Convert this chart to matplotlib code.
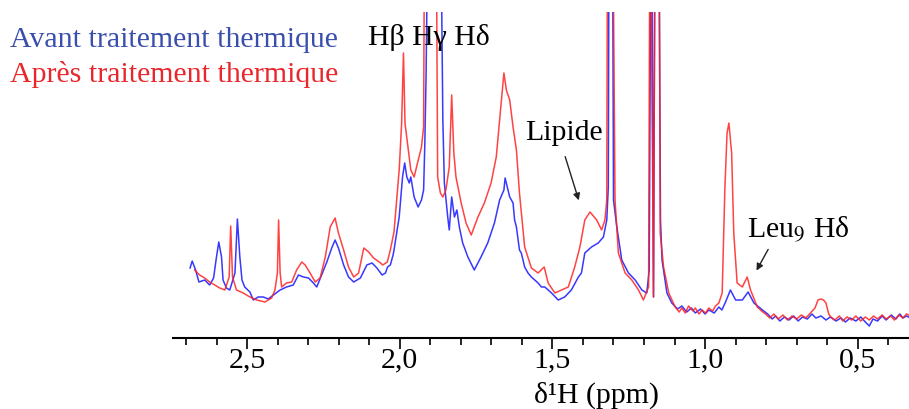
import numpy as np
import matplotlib.pyplot as plt
from matplotlib.ticker import MultipleLocator

plt.rcParams['font.family'] = ['Liberation Serif', 'DejaVu Serif']
plt.rcParams['mathtext.fontset'] = 'stix'

# chemical shift (ppm) / intensity (a.u.)
# values of 500 = peak goes off the top of the frame
avant_ppm = [2.687, 2.680, 2.669, 2.658, 2.639, 2.623, 2.610, 2.601, 2.593, 2.584,
             2.579, 2.568, 2.557, 2.540, 2.532, 2.524, 2.517, 2.508, 2.491, 2.480,
             2.464, 2.447, 2.431, 2.414, 2.392, 2.371, 2.349, 2.332, 2.316, 2.299,
             2.283, 2.272, 2.256, 2.239, 2.223, 2.212, 2.201, 2.184, 2.168, 2.151,
             2.129, 2.108, 2.091, 2.075, 2.058, 2.047, 2.040, 2.031, 2.022, 2.019,
             2.002, 1.991, 1.984, 1.977, 1.969, 1.964, 1.953, 1.940, 1.929, 1.922,
             1.918, 1.914, 1.911, 1.898, 1.878, 1.865, 1.859, 1.854, 1.843, 1.838,
             1.830, 1.821, 1.813, 1.805, 1.794, 1.777, 1.756, 1.734, 1.712, 1.690,
             1.673, 1.659, 1.655, 1.640, 1.629, 1.624, 1.618, 1.608, 1.602, 1.591,
             1.580, 1.569, 1.558, 1.547, 1.536, 1.525, 1.514, 1.503, 1.481, 1.460,
             1.438, 1.415, 1.405, 1.394, 1.372, 1.350, 1.333, 1.322, 1.317, 1.314,
             1.304, 1.300, 1.289, 1.273, 1.251, 1.229, 1.207, 1.191, 1.183, 1.176,
             1.169, 1.163, 1.153, 1.146, 1.141, 1.125, 1.109, 1.090, 1.076, 1.060,
             1.045, 1.032, 1.015, 1.000, 0.988, 0.970, 0.955, 0.945, 0.933, 0.917,
             0.900, 0.878, 0.859, 0.840, 0.812, 0.795, 0.780, 0.769, 0.755, 0.740,
             0.725, 0.710, 0.695, 0.681, 0.665, 0.650, 0.637, 0.620, 0.604, 0.590,
             0.571, 0.555, 0.540, 0.525, 0.506, 0.490, 0.475, 0.462, 0.450, 0.435,
             0.420, 0.407, 0.390, 0.375, 0.362, 0.352, 0.340, 0.322]
avant_int = [70, 77, 68, 56, 58, 53, 60, 80, 96, 81,
             58, 50, 48, 65, 119, 81, 58, 51, 46, 38,
             41, 41, 39, 43, 48, 51, 53, 63, 61, 60,
             55, 51, 63, 76, 90, 98, 90, 73, 61, 56,
             60, 73, 75, 70, 63, 65, 71, 73, 83, 88,
             121, 161, 175, 161, 155, 161, 141, 131, 138, 148,
             195, 261, 340, 500, 500, 400, 218, 155, 121, 108,
             141, 121, 128, 111, 95, 81, 68, 81, 95, 115,
             138, 148, 160, 141, 135, 118, 111, 88, 85, 71,
             65, 61, 58, 55, 51, 51, 48, 45, 38, 41,
             48, 61, 65, 85, 91, 95, 101, 118, 151, 500,
             500, 138, 111, 78, 65, 58, 48, 45, 68, 500,
             41, 500, 500, 118, 78, 45, 35, 29, 32, 26,
             30, 25, 29, 24, 28, 25, 31, 28, 36, 48,
             38, 38, 46, 35, 28, 24, 19, 22, 17, 21,
             18, 22, 17, 21, 19, 24, 20, 22, 18, 21,
             17, 20, 16, 20, 17, 21, 16, 12, 19, 17,
             22, 18, 23, 19, 24, 20, 22, 19]

apres_ppm = [2.672, 2.656, 2.639, 2.623, 2.606, 2.590, 2.573, 2.559, 2.554, 2.548,
             2.535, 2.513, 2.491, 2.469, 2.442, 2.420, 2.409, 2.401, 2.397, 2.392,
             2.387, 2.371, 2.354, 2.338, 2.321, 2.310, 2.294, 2.277, 2.261, 2.244,
             2.228, 2.219, 2.212, 2.201, 2.184, 2.168, 2.151, 2.135, 2.118, 2.102,
             2.086, 2.063, 2.056, 2.041, 2.031, 2.019, 2.002, 1.994, 1.988, 1.983,
             1.975, 1.964, 1.953, 1.942, 1.929, 1.922, 1.918, 1.882, 1.876, 1.867,
             1.859, 1.849, 1.838, 1.830, 1.823, 1.816, 1.799, 1.783, 1.766, 1.744,
             1.723, 1.701, 1.684, 1.670, 1.659, 1.651, 1.640, 1.629, 1.618, 1.608,
             1.591, 1.569, 1.547, 1.527, 1.514, 1.492, 1.470, 1.448, 1.427, 1.410,
             1.394, 1.377, 1.355, 1.339, 1.328, 1.322, 1.319, 1.304, 1.295, 1.284,
             1.262, 1.240, 1.218, 1.202, 1.185, 1.180, 1.169, 1.163, 1.151, 1.147,
             1.136, 1.119, 1.098, 1.085, 1.076, 1.065, 1.054, 1.040, 1.032, 1.020,
             1.010, 0.998, 0.988, 0.975, 0.966, 0.955, 0.944, 0.935, 0.928, 0.922,
             0.913, 0.906, 0.895, 0.878, 0.862, 0.851, 0.829, 0.815, 0.802, 0.788,
             0.775, 0.760, 0.745, 0.730, 0.715, 0.700, 0.685, 0.670, 0.655, 0.640,
             0.630, 0.621, 0.612, 0.604, 0.595, 0.588, 0.575, 0.560, 0.549, 0.535,
             0.520, 0.506, 0.490, 0.475, 0.462, 0.448, 0.435, 0.420, 0.407, 0.392,
             0.380, 0.365, 0.352, 0.340, 0.322]
apres_int = [68, 63, 60, 56, 53, 50, 48, 61, 112, 61,
             48, 45, 41, 38, 36, 40, 48, 65, 118, 65,
             51, 55, 56, 68, 76, 73, 65, 56, 60, 81,
             111, 116, 120, 105, 88, 71, 61, 65, 90, 86,
             80, 75, 73, 76, 88, 106, 168, 215, 285, 215,
             195, 168, 161, 175, 191, 211, 500, 500, 161, 145,
             141, 148, 171, 243, 185, 161, 135, 115, 103, 121,
             135, 155, 181, 228, 265, 248, 238, 211, 188, 145,
             91, 70, 65, 71, 55, 45, 48, 51, 71, 91,
             118, 126, 118, 108, 118, 138, 500, 500, 138, 85,
             65, 58, 48, 38, 51, 500, 41, 500, 500, 105,
             71, 45, 31, 26, 30, 25, 32, 27, 30, 24,
             28, 25, 30, 27, 32, 35, 45, 151, 205, 215,
             185, 105, 55, 51, 61, 48, 31, 27, 24, 20,
             24, 19, 23, 18, 22, 19, 23, 20, 25, 30,
             38, 39, 38, 35, 24, 21, 18, 22, 17, 21,
             18, 22, 17, 21, 18, 22, 19, 23, 19, 22,
             18, 23, 20, 24, 21]

tick_vals = [2.5, 2.0, 1.5, 1.0, 0.5]
tick_labels = ["2,5", "2,0", "1,5", "1,0", "0,5"]

blue = '#2222ff'
red = '#ff2222'
fs = 21.5

fig = plt.figure(figsize=(9.09, 4.09), dpi=100)
ax = fig.add_axes([0.1903, 0.1736, 0.8097, 0.7971])

ax.plot(avant_ppm, avant_int, color=blue, lw=1.1, alpha=0.9)
ax.plot(apres_ppm, apres_int, color=red, lw=1.1, alpha=0.85)

ax.set_xlim(2.743, 0.332)
ax.set_ylim(0, 326)

for side in ['top', 'right', 'left']:
    ax.spines[side].set_visible(False)
ax.spines['bottom'].set_linewidth(1.5)
ax.set_yticks([])

ax.set_xticks(tick_vals)
ax.set_xticklabels(tick_labels, fontsize=fs)
ax.xaxis.set_minor_locator(MultipleLocator(0.1))
ax.tick_params(axis='x', which='major', length=8, width=1.2, pad=-1)
ax.tick_params(axis='x', which='minor', length=5, width=1.2)

fig.text(597 / 909, 1 - 395 / 409, "δ¹H (ppm)", fontsize=fs,
         ha='center', va='center')

# legend as coloured text
fig.text(10 / 909, 1 - 47 / 409, "Avant traitement thermique", fontsize=fs,
         color='#3a4fab', va='baseline')
fig.text(10 / 909, 1 - 82 / 409, "Après traitement thermique", fontsize=fs,
         color='#e8262b', va='baseline')

fig.text(368 / 909, 1 - 45 / 409, "Hβ Hγ Hδ", fontsize=fs, va='baseline')

# annotations
ax.text(1.461, 205, "Lipide", fontsize=fs, ha='center', va='center')
ax.annotate('', xy=(1.411, 135), xytext=(1.461, 184),
            arrowprops=dict(arrowstyle='-|>', color='#222222', lw=1.0,
                            mutation_scale=10))
ax.text(0.862, 108, "Leu$_9$ Hδ", fontsize=fs, ha='left', va='center')
ax.annotate('', xy=(0.836, 65), xytext=(0.789, 91),
            arrowprops=dict(arrowstyle='-|>', color='#222222', lw=1.0,
                            mutation_scale=10))

fig.savefig('out.png', dpi=100)
